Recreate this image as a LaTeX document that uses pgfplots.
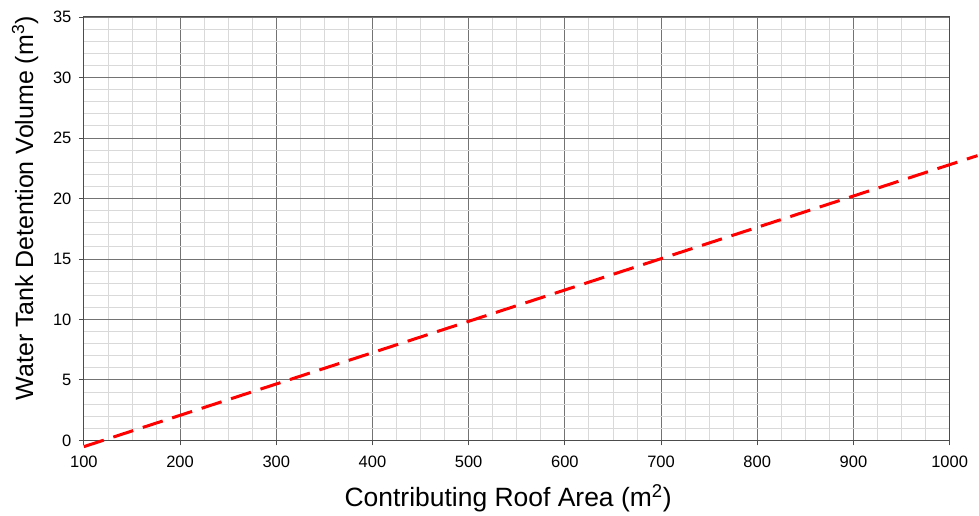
\documentclass[border=0pt]{standalone}
\usepackage{pgfplots}
\pgfplotsset{compat=1.18}
\usepackage{fontspec}
\setmainfont{Liberation Sans}
\begin{document}
\begin{tikzpicture}
\begin{axis}[
  scale only axis,
  width=867pt, height=424pt,
  xmin=100, xmax=1000, ymin=0, ymax=35,
  xtick={100,200,...,1000},
  ytick={0,5,...,35},
  minor x tick num=3,
  minor y tick num=4,
  grid=both,
  major grid style={draw=black!55, line width=0.8pt},
  minor grid style={draw=black!15, line width=0.8pt},
  axis line style={draw=black!70, line width=1pt},
  tick align=outside,
  tick pos=left,
  major tick length=5pt,
  minor tick length=0pt,
  tick style={draw=black!70, line width=0.8pt},
  /pgf/number format/assume math mode=true,
  /pgf/number format/1000 sep={},
  ticklabel style={font=\fontsize{16.5}{19}\selectfont},
  xticklabel style={yshift=-7pt},
  yticklabel style={xshift=-4pt},
  xlabel={Contributing Roof Area (m\textsuperscript{2})},
  ylabel={Water Tank Detention Volume (m\textsuperscript{3})},
  xlabel style={font=\fontsize{26.5}{30}\selectfont, at={(axis description cs:0.490,-0.137)}, anchor=center},
  ylabel style={font=\fontsize{25}{29}\selectfont, at={(axis description cs:-0.068,0.548)}, anchor=center},
  clip=false,
]
\addplot[red, line width=3pt, dash pattern=on 21pt off 10pt] coordinates {(100,-0.52) (1029,23.54)};
\end{axis}
\path ([xshift=-84pt,yshift=-72pt]current axis.south west) ([xshift=28pt,yshift=17pt]current axis.north east);
\end{tikzpicture}
\end{document}
